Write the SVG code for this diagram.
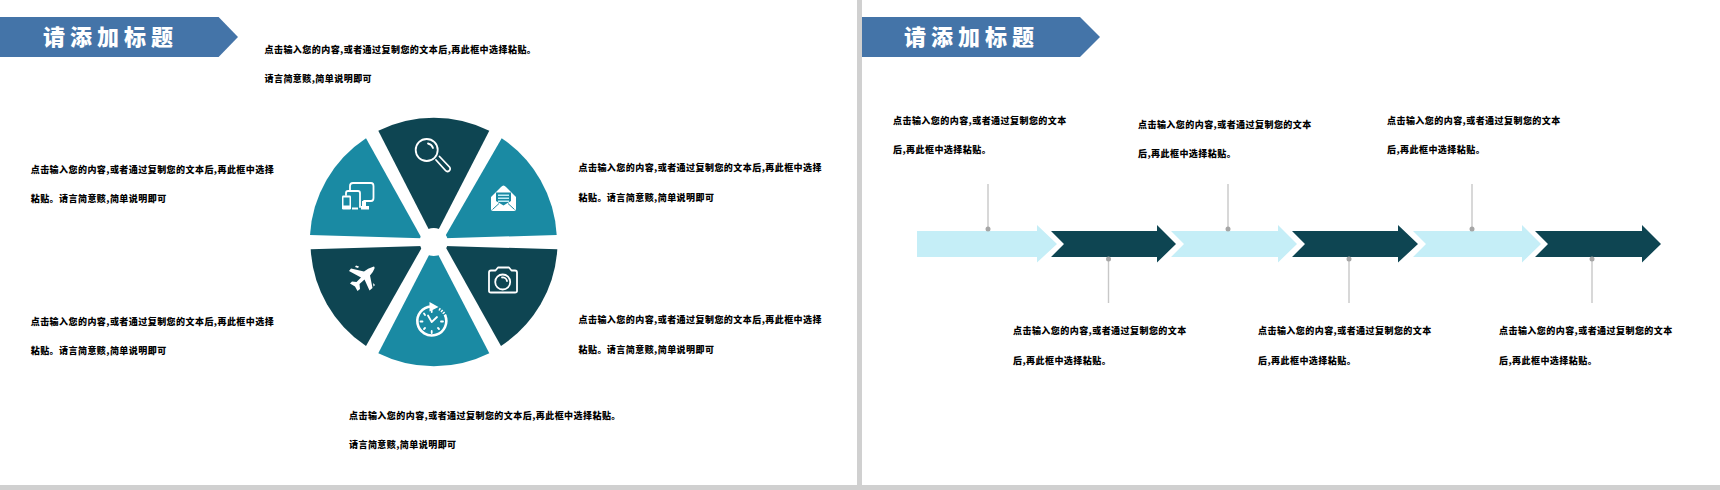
<svg xmlns="http://www.w3.org/2000/svg" width="1720" height="490" viewBox="0 0 1720 490">
<style>
.t{font-family:"Noto Sans CJK SC","Liberation Sans",sans-serif;font-size:9px;letter-spacing:.45px;font-weight:900;fill:#000}
.h{font-family:"Noto Sans CJK SC","Liberation Sans",sans-serif;font-weight:900;fill:#fff;font-size:22px;letter-spacing:5px}
.hb{fill:#4474a8}
.d{fill:#0e4552}.c{fill:#1a8aa3}.l{fill:#c5eef7}
.pin{stroke:#c8c8c8;stroke-width:1.4;fill:none}.dot{fill:#a6a6a6}
.is{fill:none;stroke:#fff;stroke-width:1.8;stroke-linejoin:round;stroke-linecap:round}
.if{fill:#fff}
</style>
<rect width="1720" height="490" fill="#fff"/>
<g id="frame" fill="#d0d0d0"><rect x="857" y="0" width="5" height="490"/><rect x="0" y="485" width="1720" height="5"/></g>

<g id="title-left"><path class="hb" d="M0 17H218.600L238 37L218.600 57H0Z"/><text class="h" x="43" y="45">请添加标题</text></g>
<g id="title-right"><path class="hb" d="M862 17H1080L1100 37L1080 57H862Z"/><text class="h" x="904" y="45">请添加标题</text></g>

<g id="pie">
<g id="w-search"><path class="d" d="M378.300 130.700A124.500 124.500 0 0 1 489.300 130.700L433.700 239Z"/>
<circle class="is" cx="426.700" cy="150" r="11"/><path class="is" stroke-width="1.200" d="M428 143.500A7 7 0 0 1 433 148"/><path class="is" d="M436 160L445.500 170.500A2.400 2.400 0 0 0 449.500 167L439.500 156.500"/></g>
<g id="w-mail"><path class="c" d="M501.700 138.300A124.500 124.500 0 0 1 556.700 235L444 238.300Z"/>
<path class="if" d="M491 197L501 187Q503.500 184 506 187L516 197V209Q516 211 514 211H493Q491 211 491 209Z"/>
<path class="c" d="M496 192.500H511V201L503.500 205.500L496 201Z"/>
<path fill="#c5eef7" d="M498 194.500H509V196H498ZM498 197.500H509V199H498ZM498 200.500H509V202H498Z"/>
<path fill="none" stroke="#1a8aa3" stroke-width="1" d="M492.500 209.500L499 203.500M514.500 209.500L508 203.500"/></g>
<g id="w-camera"><path class="d" d="M557.300 249.300A124.500 124.500 0 0 1 501 346L445 246Z"/>
<path class="is" d="M489 272.500Q489 270.500 491 270.500H495.500L498 267.500H509L511.500 270.500H515Q517 270.500 517 272.500V291Q517 292.500 515 292.500H491Q489 292.500 489 291Z"/>
<circle class="is" cx="502.700" cy="282" r="7.500"/><path class="is" stroke-width="1" d="M502 277.500A4.500 4.500 0 0 1 507 281"/></g>
<g id="w-clock"><path class="c" d="M489.300 353.300A124.500 124.500 0 0 1 378.300 353.300L433.700 246Z"/>
<path fill="none" stroke="#fff" stroke-width="2.600" d="M431 306.500A14.500 14.500 0 1 0 445 315"/>
<path class="if" d="M429.500 302L438.500 307L429.500 311.500Z"/>
<path fill="none" stroke="#fff" stroke-width="2.600" stroke-dasharray="1.500 1.200" d="M439 309A14.500 14.500 0 0 1 445.500 316"/>
<path class="is" stroke-width="1.500" d="M428 315.500L431.700 322L437 317"/>
<path class="is" stroke-width="1" d="M431.700 310V312M431.700 331V333M420.500 321.500H422.500M441 321.500H443M424 313.500L425 315M439 329L438 328M424 329L425 328"/></g>
<g id="w-plane"><path class="d" d="M366 346A124.500 124.500 0 0 1 310.700 249.300L422.700 246Z"/>
<path class="if" d="M372.500 267Q375 265.500 374.500 268.500Q373 272.500 370 275.500L372.500 288L369.500 290.500L364.500 279.500L359.500 284L360 289L357.500 291L355 286.500L350 283.500L352 281.500L356.500 282L361 277.500L349 271L351 268.500L364 271.500Q368 268 372.500 267Z"/>
<path class="if" d="M356 265.500L359 266.500L358 268L355 267ZM373 283L375 285L373.500 286.500Z"/></g>
<g id="w-devices"><path class="c" d="M310 235A124.500 124.500 0 0 1 366 138.300L421.700 238.300Z"/>
<path class="is" stroke-width="1.700" d="M350 190V186Q350 183 353 183H371Q373.500 183 373.500 186V198Q373.500 201 371 201H364"/>
<path class="is" stroke-width="1.700" d="M346 195V193Q346 191 348 191H358Q360 191 360 193V207"/>
<rect class="if" x="342" y="195.500" width="9" height="14" rx="1.200"/><rect class="c" x="343.500" y="197.500" width="6" height="8"/>
<path class="if" d="M352 207.500H358V209.500H352ZM362 201H366V206H369V209.500H361V206H362Z"/></g>
<circle cx="433.700" cy="242" r="14" fill="#fff"/>
</g>

<g id="arrows">
<path id="a1" class="l" d="M917 231H1037V225L1057 244L1037 262.500V257H917Z"/>
<path id="a2" class="d" d="M1051 231H1157V225L1176 244L1157 262.500V257H1051L1064 244Z"/>
<path id="a3" class="l" d="M1171 231H1278V225L1297 244L1278 262.500V257H1171L1184 244Z"/>
<path id="a4" class="d" d="M1292 231H1398V225L1418 244L1398 262.500V257H1292L1305 244Z"/>
<path id="a5" class="l" d="M1413 231H1522V225L1541 244L1522 262.500V257H1413L1426 244Z"/>
<path id="a6" class="d" d="M1535 231H1642V225L1661 244L1642 262.500V257H1535L1548 244Z"/>
</g>
<g id="connectors">
<path class="pin" d="M988 184V229M1228 184V229M1472 184V229M1108.500 259V303M1349 259V303M1592 259V303"/>
<circle class="dot" cx="988" cy="229" r="2.500"/><circle class="dot" cx="1228" cy="229" r="2.500"/><circle class="dot" cx="1472" cy="229" r="2.500"/>
<circle class="dot" cx="1108.500" cy="259" r="2.500"/><circle class="dot" cx="1349" cy="259" r="2.500"/><circle class="dot" cx="1592" cy="259" r="2.500"/>
</g>

<g id="labels-left">
<g id="n1"><text class="t" x="264.500" y="53">点击输入您的内容,或者通过复制您的文本后,再此框中选择粘贴。</text><text class="t" x="264.500" y="82">请言简意赅,简单说明即可</text></g>
<g id="n2"><text class="t" x="30.700" y="173">点击输入您的内容,或者通过复制您的文本后,再此框中选择</text><text class="t" x="30.700" y="202">粘贴。请言简意赅,简单说明即可</text></g>
<g id="n3"><text class="t" x="578.500" y="171">点击输入您的内容,或者通过复制您的文本后,再此框中选择</text><text class="t" x="578.500" y="201">粘贴。请言简意赅,简单说明即可</text></g>
<g id="n4"><text class="t" x="30.700" y="325">点击输入您的内容,或者通过复制您的文本后,再此框中选择</text><text class="t" x="30.700" y="354">粘贴。请言简意赅,简单说明即可</text></g>
<g id="n5"><text class="t" x="578.500" y="323">点击输入您的内容,或者通过复制您的文本后,再此框中选择</text><text class="t" x="578.500" y="353">粘贴。请言简意赅,简单说明即可</text></g>
<g id="n6"><text class="t" x="349" y="419">点击输入您的内容,或者通过复制您的文本后,再此框中选择粘贴。</text><text class="t" x="349" y="448">请言简意赅,简单说明即可</text></g>
</g>
<g id="labels-right">
<g id="m1"><text class="t" x="893" y="124">点击输入您的内容,或者通过复制您的文本</text><text class="t" x="893" y="153">后,再此框中选择粘贴。</text></g>
<g id="m2"><text class="t" x="1138" y="128">点击输入您的内容,或者通过复制您的文本</text><text class="t" x="1138" y="157">后,再此框中选择粘贴。</text></g>
<g id="m3"><text class="t" x="1387" y="124">点击输入您的内容,或者通过复制您的文本</text><text class="t" x="1387" y="153">后,再此框中选择粘贴。</text></g>
<g id="m4"><text class="t" x="1013" y="334">点击输入您的内容,或者通过复制您的文本</text><text class="t" x="1013" y="364">后,再此框中选择粘贴。</text></g>
<g id="m5"><text class="t" x="1258" y="334">点击输入您的内容,或者通过复制您的文本</text><text class="t" x="1258" y="364">后,再此框中选择粘贴。</text></g>
<g id="m6"><text class="t" x="1499" y="334">点击输入您的内容,或者通过复制您的文本</text><text class="t" x="1499" y="364">后,再此框中选择粘贴。</text></g>
</g>
</svg>
